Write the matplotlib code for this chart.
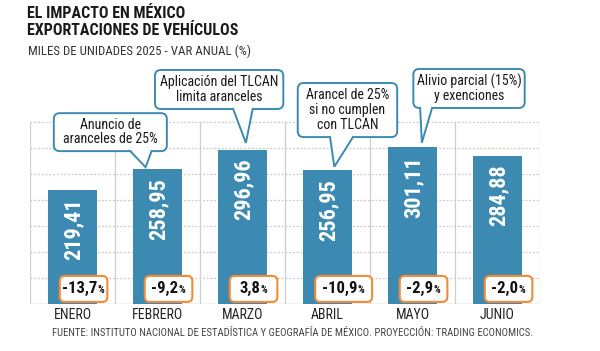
"""
Exportaciones de vehículos de México 2025 - barras con globos de texto
"""
import matplotlib
matplotlib.use("Agg")
import matplotlib.pyplot as plt
from matplotlib import font_manager
from matplotlib.patches import FancyBboxPatch, Polygon

# fuente estrecha: la primera que exista
names = {f.name for f in font_manager.fontManager.ttflist}
NARROW = "DejaVu Sans"
for cand in ["Roboto Condensed", "Liberation Sans Narrow", "Roboto"]:
    if cand in names:
        NARROW = cand
        break

#########################################################################################
# datos
#########################################################################################
months = ["ENERO", "FEBRERO", "MARZO", "ABRIL", "MAYO", "JUNIO"]
values = [219.41, 258.95, 296.96, 256.95, 301.11, 284.88]
value_labels = ["219,41", "258,95", "296,96", "256,95", "301,11", "284,88"]
var_labels = ["-13,7", "-9,2", "3,8", "-10,9", "-2,9", "-2,0"]

callout_texts = ["Anuncio de\naranceles de 25%",
                 "Aplicación del TLCAN\nlimita aranceles",
                 "Arancel de 25%\nsi no cumplen\ncon TLCAN",
                 "Alivio parcial (15%)\ny exenciones"]
callout_bar = [1, 2, 3, 4]

title1 = "EL IMPACTO EN MÉXICO"
title2 = "EXPORTACIONES DE VEHÍCULOS"
subtitle = "MILES DE UNIDADES 2025 - VAR ANUAL (%)"
source = "FUENTE: INSTITUTO NACIONAL DE ESTADÍSTICA Y GEOGRAFÍA DE MÉXICO. PROYECCIÓN: TRADING ECONOMICS."

# estilo / posiciones
BLUE = "#3c8ab2"
ORANGE = "#f28a36"
GRID = "#c9c9c9"
# cajas de variación: desplazamiento y ancho (en unidades de categoría)
var_box_dx = [0.13, 0.13, 0.13, 0.19, 0.13, 0.13]
var_box_w = [0.56, 0.56, 0.56, 0.67, 0.56, 0.56]
# globos: (x0, x1, y0, y1) caja, (b0, b1) base del pico, (dx, gap) punta
callout_box = [(-0.22, 1.11, 294, 367), (0.97, 2.48, 375, 450),
               (2.65, 3.82, 321, 425), (4.01, 5.32, 377, 452)]
callout_base = [(0.68, 0.93), (1.89, 2.12), (3.03, 3.30), (4.09, 4.23)]
callout_tip = [(-0.14, 4), (0.04, 13), (0.08, 7), (0.11, 9)]

#########################################################################################
# figura
#########################################################################################
fig = plt.figure(figsize=(6.0, 3.51), dpi=100)
ax = fig.add_axes([30 / 600, 47 / 351, 510 / 600, 244 / 351])
ymax = 244 / 0.52
ax.set_xlim(-0.5, 5.5)
ax.set_ylim(0, ymax)
ax.axis("off")

x = list(range(len(months)))

# rejilla
for yv in range(50, 351, 50):
    ax.plot([-0.5, 5.5], [yv, yv], color=GRID, lw=0.9, ls=(0, (1.5, 1.5)), zorder=1)
for xv in [i - 0.5 for i in range(7)]:
    ax.plot([xv, xv], [0, 350], color="#cfcfcf", lw=0.9, zorder=1)
ax.plot([-0.5, 5.5], [0, 0], color="#bdbdbd", lw=1.0, zorder=1)

ax.bar(x, values, width=0.58, color=BLUE, zorder=2)

aspect = (1 / 0.52) / (1 / 85)

for i, v in enumerate(values):
    ax.text(i + 0.01, v - 17, value_labels[i], rotation=90, ha="center", va="top",
            color="white", fontsize=16, fontweight="bold", family=NARROW,
            zorder=4)
    # caja de variación
    bx = i + var_box_dx[i]
    w = var_box_w[i]
    box = FancyBboxPatch((bx - w / 2, 4), w, 50,
                         boxstyle="round,pad=0,rounding_size=0.06",
                         mutation_aspect=aspect, facecolor="white",
                         edgecolor=ORANGE, lw=1.5, zorder=5)
    ax.add_patch(box)
    t = ax.text(bx - 0.045, 29, var_labels[i], ha="center", va="center",
                fontsize=12, fontweight="bold", family=NARROW,
                color="#111111", zorder=6)
    ax.annotate("%", xy=(1, 0.1), xycoords=t, ha="left", va="bottom",
                fontsize=7.5, fontweight="bold", family=NARROW,
                color="#111111", zorder=6)
    ax.text(i, -22, months[i], ha="center", va="center", fontsize=10,
            family=NARROW, color="#222222")

# globos
for k, txt in enumerate(callout_texts):
    x0, x1, y0, y1 = callout_box[k]
    b0, b1 = callout_base[k]
    i = callout_bar[k]
    dx, gap = callout_tip[k]
    tip = (i + dx, values[i] + gap)
    box = FancyBboxPatch((x0, y0), x1 - x0, y1 - y0,
                         boxstyle="round,pad=0,rounding_size=0.07",
                         mutation_aspect=aspect, facecolor="white",
                         edgecolor=BLUE, lw=1.4, zorder=6)
    ax.add_patch(box)
    ax.add_patch(Polygon([(b0, y0 + 3), (b1, y0 + 3), tip], closed=True,
                         facecolor="white", edgecolor="none", zorder=7))
    ax.plot([b0, tip[0], b1], [y0, tip[1], y0], color=BLUE, lw=1.4,
            solid_joinstyle="miter", zorder=8)
    ax.text((x0 + x1) / 2, (y0 + y1) / 2, txt, ha="center", va="center",
            fontsize=10, family=NARROW, color="#1a1a1a", linespacing=1.05,
            zorder=9)

# títulos
fig.text(27 / 600, 1 - 14 / 351, title1, ha="left", va="center", fontsize=11.5,
         fontweight="bold", family=NARROW, color="#1a1a1a")
fig.text(27 / 600, 1 - 30.5 / 351, title2, ha="left", va="center", fontsize=11.5,
         fontweight="bold", family=NARROW, color="#1a1a1a")
fig.text(28 / 600, 1 - 51 / 351, subtitle, ha="left", va="center", fontsize=9.3,
         family=NARROW, color="#333333")
fig.text(293 / 600, 1 - 333 / 351, source, ha="center", va="center", fontsize=7.7,
         family=NARROW, color="#444444")

fig.savefig("out.png", dpi=100, facecolor="white")
